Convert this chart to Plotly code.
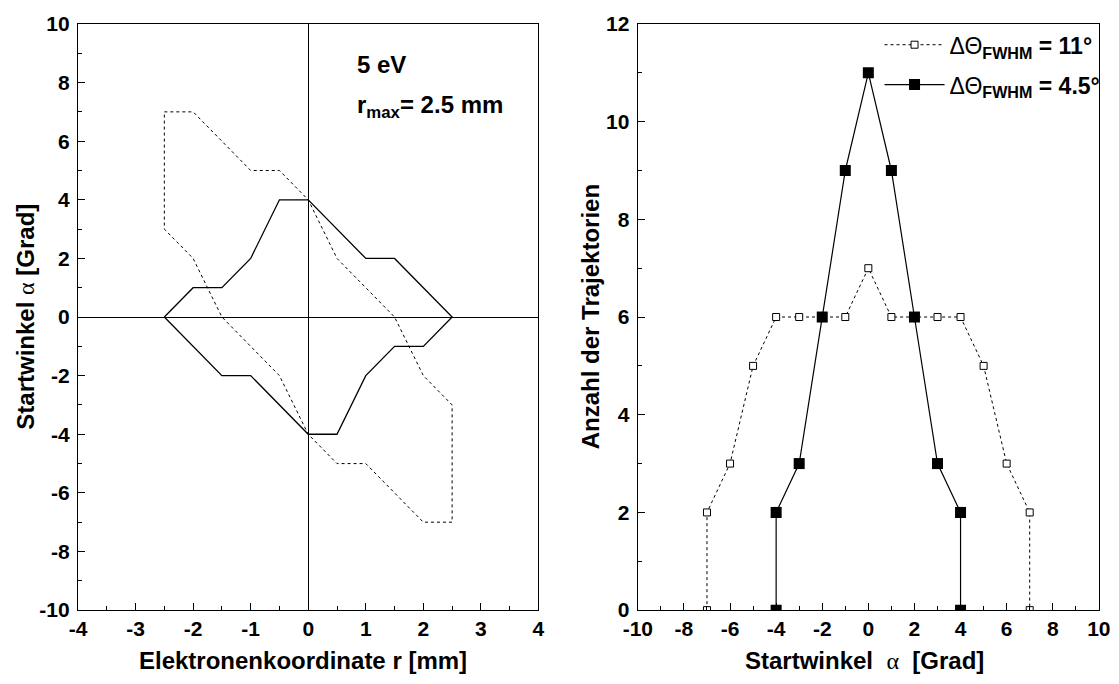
import plotly.graph_objects as go

# Left panel: phase-space boundaries (r in mm, start angle in degrees)
r_wide = [-2.5, -2, -1, -0.5, 0, 0.5, 1, 1.5, 2, 2.5, 2.5, 2, 1, 0.5, 0, -0.5, -1, -1.5, -2, -2.5, -2.5]
a_wide = [7, 7, 5, 5, 4, 2, 1, 0, -2, -3, -7, -7, -5, -5, -4, -2, -1, 0, 2, 3, 7]

r_narrow = [-2.5, -2, -1.5, -1, -0.5, 0, 1, 1.5, 2.5, 2, 1.5, 1, 0.5, 0, -1, -1.5, -2.5]
a_narrow = [0, 1, 1, 2, 4, 4, 2, 2, 0, -1, -1, -2, -4, -4, -2, -2, 0]

# Right panel: number of trajectories per start angle
alpha_11 = [-7, -7, -6, -5, -4, -3, -2, -1, 0, 1, 2, 3, 4, 5, 6, 7, 7]
count_11 = [0, 2, 3, 5, 6, 6, 6, 6, 7, 6, 6, 6, 6, 5, 3, 2, 0]

alpha_45 = [-4, -4, -3, -2, -1, 0, 1, 2, 3, 4, 4]
count_45 = [0, 2, 3, 6, 9, 11, 9, 6, 3, 2, 0]

# Tick positions for each axis
ticks_r = [-4, -3, -2, -1, 0, 1, 2, 3, 4]
ticks_a = [-10, -8, -6, -4, -2, 0, 2, 4, 6, 8, 10]
ticks_alpha = [-10, -8, -6, -4, -2, 0, 2, 4, 6, 8, 10]
ticks_n = [0, 2, 4, 6, 8, 10, 12]

FONT = "Liberation Sans, Arial, sans-serif"
ALPHA = "<span style=\"font-family:'Liberation Serif';font-weight:normal\">α</span>"


def labels(vals):
    return ["<b>%d</b>" % v for v in vals]


fig = go.Figure()

fig.add_trace(go.Scatter(x=r_wide, y=a_wide, mode="lines",
                         line=dict(color="black", width=1, dash="dot"),
                         showlegend=False, xaxis="x", yaxis="y"))
fig.add_trace(go.Scatter(x=r_narrow, y=a_narrow, mode="lines",
                         line=dict(color="black", width=1.3),
                         showlegend=False, xaxis="x", yaxis="y"))

fig.add_trace(go.Scatter(x=alpha_11, y=count_11, mode="lines+markers",
                         line=dict(color="black", width=1, dash="dot"),
                         marker=dict(symbol="square", size=7, color="white",
                                     line=dict(color="black", width=1)),
                         name="ΔΘ<sub><b>FWHM</b></sub><b> = 11°</b>",
                         legendgroup="g11", xaxis="x2", yaxis="y2"))
fig.add_trace(go.Scatter(x=alpha_45, y=count_45, mode="lines+markers",
                         line=dict(color="black", width=1.2),
                         marker=dict(symbol="square", size=11, color="black"),
                         name="ΔΘ<sub><b>FWHM</b></sub><b> = 4.5°</b>",
                         legendgroup="g45", xaxis="x2", yaxis="y2"))

tickfont = dict(family=FONT, size=21, color="black")
common = dict(showline=True, linecolor="black", linewidth=1.3, mirror=True,
              ticks="inside", ticklen=7, tickwidth=1.2, tickcolor="black",
              showgrid=False, tickfont=tickfont, automargin=False)
minor = dict(ticks="inside", ticklen=4, tickwidth=1, tickcolor="black")

fig.update_layout(
    width=1119, height=684,
    margin=dict(l=0, r=0, t=0, b=0),
    plot_bgcolor="white", paper_bgcolor="white",
    xaxis=dict(domain=[0.0697, 0.4812], range=[-4, 4],
               tickmode="array", tickvals=ticks_r, ticktext=labels(ticks_r),
               minor=dict(dtick=0.5, **minor),
               zeroline=True, zerolinecolor="black", zerolinewidth=1.2,
               anchor="y", **common),
    yaxis=dict(domain=[0.108, 0.965], range=[-10, 10],
               tickmode="array", tickvals=ticks_a, ticktext=labels(ticks_a),
               minor=dict(dtick=1, **minor), ticklabelstandoff=3,
               zeroline=True, zerolinecolor="black", zerolinewidth=1.2,
               anchor="x", **common),
    xaxis2=dict(domain=[0.570, 0.982], range=[-10, 10],
                tickmode="array", tickvals=ticks_alpha, ticktext=labels(ticks_alpha),
                minor=dict(dtick=1, **minor),
                zeroline=False, anchor="y2", **common),
    yaxis2=dict(domain=[0.108, 0.965], range=[0, 12],
                tickmode="array", tickvals=ticks_n, ticktext=labels(ticks_n),
                minor=dict(dtick=1, **minor), ticklabelstandoff=3,
                zeroline=False, anchor="x2", **common),
    legend=dict(x=0.786, y=0.966, xanchor="left", yanchor="top",
                bgcolor="rgba(0,0,0,0)", itemwidth=60, tracegroupgap=7,
                font=dict(family=FONT, size=23, color="black")),
    font=dict(family=FONT, color="black"),
)

title_font = dict(family=FONT, size=24, color="black")
fig.add_annotation(text="<b>Elektronenkoordinate r [mm]</b>", xref="paper", yref="paper",
                   x=0.2705, y=0.034, xanchor="center", yanchor="middle",
                   showarrow=False, font=title_font)
fig.add_annotation(text="<b>Startwinkel </b>" + ALPHA + "<b> [Grad]</b>",
                   xref="paper", yref="paper",
                   x=0.022, y=0.5365, xanchor="center", yanchor="middle",
                   showarrow=False, textangle=-90, font=title_font)
fig.add_annotation(text="<b>Startwinkel  </b>" + ALPHA + "<b>  [Grad]</b>",
                   xref="paper", yref="paper",
                   x=0.7725, y=0.034, xanchor="center", yanchor="middle",
                   showarrow=False, font=title_font)
fig.add_annotation(text="<b>Anzahl der Trajektorien</b>", xref="paper", yref="paper",
                   x=0.5275, y=0.5365, xanchor="center", yanchor="middle",
                   showarrow=False, textangle=-90, font=title_font)

label_font = dict(family=FONT, size=24, color="black")
fig.add_annotation(text="<b>5 eV</b>", xref="x", yref="y", x=0.82, y=8.6,
                   xanchor="left", yanchor="middle", showarrow=False, font=label_font)
fig.add_annotation(text="<b>r<sub>max</sub>= 2.5 mm</b>", xref="x", yref="y", x=0.82, y=7.2,
                   xanchor="left", yanchor="middle", showarrow=False, font=label_font)

fig.write_html("out.html")
